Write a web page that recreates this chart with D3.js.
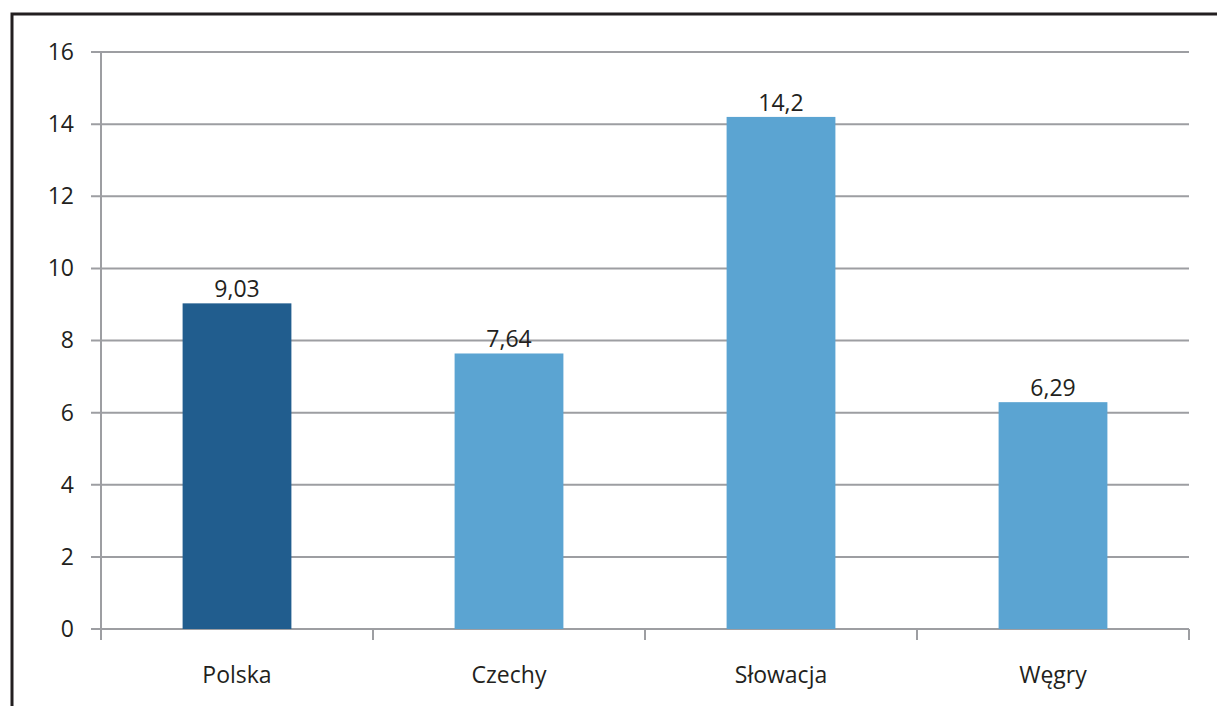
<!DOCTYPE html>
<html>
<head>
<meta charset="utf-8">
<script src="https://cdn.jsdelivr.net/npm/d3@7"></script>
<style>
  html, body { margin: 0; padding: 0; background: #fff; }
  svg { display: block; }
  text { font-family: "Open Sans", "DejaVu Sans", sans-serif; fill: #231f20; }
</style>
</head>
<body>
<svg id="chart" width="1217" height="706"></svg>
<script>
// Values per country
const categories = ["Polska", "Czechy", "Słowacja", "Węgry"];
const values = [9.03, 7.64, 14.2, 6.29];
const valueLabels = ["9,03", "7,64", "14,2", "6,29"];
const yTicks = [0, 2, 4, 6, 8, 10, 12, 14, 16];
const highlighted = ["Polska"];

const svg = d3.select("#chart");
const W = 1217, H = 706;
const margin = { left: 101, right: W - 1189, top: 52, bottom: H - 629 };
const fontSize = 23;

// Outer frame (left and top edges visible)
svg.append("path")
  .attr("d", `M12,${H} L12,14 L${W},14`)
  .attr("fill", "none")
  .attr("stroke", "#231f20")
  .attr("stroke-width", 3);

const x = d3.scaleBand()
  .domain(categories)
  .range([margin.left, W - margin.right])
  .paddingInner(0.6)
  .paddingOuter(0.3);

const y = d3.scaleLinear()
  .domain([0, 16])
  .range([H - margin.bottom, margin.top]);

const gridColor = "#9d9ea2";

// Horizontal gridlines
svg.append("g")
  .selectAll("line")
  .data(yTicks)
  .join("line")
  .attr("x1", margin.left - 10)
  .attr("x2", W - margin.right)
  .attr("y1", d => y(d))
  .attr("y2", d => y(d))
  .attr("stroke", gridColor)
  .attr("stroke-width", 2);

// Y axis labels
const yAxis = d3.axisLeft(y).tickValues(yTicks).tickSize(0).tickPadding(27);
const gy = svg.append("g")
  .attr("transform", `translate(${margin.left},0)`)
  .call(yAxis);
gy.select(".domain").remove();
gy.selectAll("text")
  .attr("font-size", fontSize)
  .attr("fill", "#231f20")
  .style("font-family", '"Open Sans", "DejaVu Sans", sans-serif');

// Bars
svg.append("g")
  .selectAll("rect")
  .data(categories)
  .join("rect")
  .attr("x", d => x(d))
  .attr("width", x.bandwidth())
  .attr("y", (d, i) => y(values[i]))
  .attr("height", (d, i) => y(0) - y(values[i]))
  .attr("fill", d => highlighted.includes(d) ? "#215d8e" : "#5ba4d2");

// Value labels
svg.append("g")
  .selectAll("text")
  .data(categories)
  .join("text")
  .attr("x", d => x(d) + x.bandwidth() / 2)
  .attr("y", (d, i) => y(values[i]) - 6)
  .attr("text-anchor", "middle")
  .attr("font-size", fontSize)
  .text((d, i) => valueLabels[i]);

// Y axis line
svg.append("line")
  .attr("x1", margin.left).attr("x2", margin.left)
  .attr("y1", y(16)).attr("y2", y(0) + 11)
  .attr("stroke", gridColor).attr("stroke-width", 2);

// Category boundary ticks on the x axis
const bounds = d3.range(categories.length + 1).map(i => margin.left + i * (W - margin.right - margin.left) / categories.length);
svg.append("g")
  .selectAll("line")
  .data(bounds.slice(1))
  .join("line")
  .attr("x1", d => d).attr("x2", d => d)
  .attr("y1", y(0)).attr("y2", y(0) + 11)
  .attr("stroke", gridColor).attr("stroke-width", 2);

// Category labels
svg.append("g")
  .selectAll("text")
  .data(categories)
  .join("text")
  .attr("x", d => x(d) + x.bandwidth() / 2)
  .attr("y", 683)
  .attr("text-anchor", "middle")
  .attr("font-size", fontSize)
  .text(d => d);
</script>
</body>
</html>
